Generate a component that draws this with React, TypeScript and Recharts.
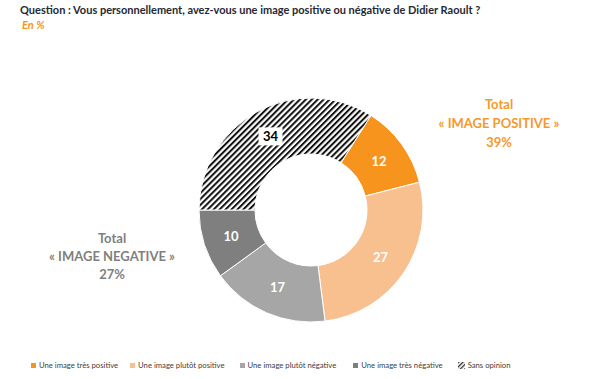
import React from "react";
import { PieChart, Pie, Cell } from "recharts";

const categories = [
  "Une image très positive",
  "Une image plutôt positive",
  "Une image plutôt négative",
  "Une image très négative",
  "Sans opinion",
];
const values = [12, 27, 17, 10, 34];
const colors = ["#F7941D", "#F9C08F", "#A6A6A6", "#7F7F7F", "url(#hatch)"];
const labelColors = ["#FFFFFF", "#FFFFFF", "#FFFFFF", "#FFFFFF", "#000000"];
const positiveTotal = ["Total", "« IMAGE POSITIVE »", "39%"];
const negativeTotal = ["Total", "« IMAGE NEGATIVE »", "27%"];
const title = "Question : Vous personnellement, avez-vous une image positive ou négative de Didier Raoult ?";
const subtitle = "En %";

const data = categories.map((name, i) => ({ name, value: values[i] }));

const FONT = "Lato, 'Open Sans', sans-serif";
const RADIAN = Math.PI / 180;

const renderLabel = (props: any) => {
  const { cx, cy, midAngle, innerRadius, outerRadius, value, index } = props;
  const r = (innerRadius + outerRadius) / 2;
  const x = cx + r * Math.cos(-midAngle * RADIAN);
  const y = cy + r * Math.sin(-midAngle * RADIAN);
  const isHatch = index === 4;
  return (
    <g>
      {isHatch && <rect x={x - 12} y={y - 9} width={24} height={18} fill="#FFFFFF" />}
      <text
        x={x}
        y={y}
        fill={labelColors[index]}
        textAnchor="middle"
        dominantBaseline="central"
        fontFamily={FONT}
        fontWeight={700}
        fontSize={13}
      >
        {value}
      </text>
    </g>
  );
};

const LegendIcon = ({ i }: { i: number }) =>
  i === 4 ? (
    <svg width={7} height={7} style={{ marginRight: 3 }}>
      <rect x={0} y={0} width={7} height={7} fill="url(#hatchSmall)" />
    </svg>
  ) : (
    <span style={{ display: "inline-block", width: 5, height: 5, background: colors[i], marginRight: 3 }} />
  );

const legendGaps = [12, 15, 17, 15, 0];

export default function App() {
  return (
    <div style={{ position: "absolute", left: 0, top: 0, width: 600, height: 379, background: "#fff", fontFamily: FONT }}>
      <svg width={0} height={0} style={{ position: "absolute" }}>
        <defs>
          <pattern id="hatchSmall" patternUnits="userSpaceOnUse" width={3} height={3} patternTransform="rotate(45)">
            <rect x={0} y={0} width={3} height={3} fill="#fff" />
            <rect x={0} y={0} width={1.3} height={3} fill="#333" />
          </pattern>
        </defs>
      </svg>
      <div style={{ position: "absolute", left: 20, top: 3, fontSize: 11, fontWeight: 700, color: "#262833", whiteSpace: "nowrap" }}>
        {title}
      </div>
      <div style={{ position: "absolute", left: 22, top: 18, fontSize: 11, fontWeight: 700, fontStyle: "italic", color: "#F7941D" }}>
        {subtitle}
      </div>
      <PieChart width={600} height={379} margin={{ top: 0, right: 0, bottom: 0, left: 0 }} style={{ position: "absolute", left: 0, top: 0 }}>
        <defs>
          <pattern id="hatch" patternUnits="userSpaceOnUse" width={4.2} height={4.2} patternTransform="rotate(45)">
            <rect x={0} y={0} width={4.2} height={4.2} fill="#fff" />
            <rect x={0} y={0} width={2} height={4.2} fill="#111" />
          </pattern>
        </defs>
        <Pie
          data={data}
          dataKey="value"
          nameKey="name"
          cx={311}
          cy={210}
          innerRadius={56}
          outerRadius={112}
          startAngle={57.6}
          endAngle={-302.4}
          stroke="#FFFFFF"
          strokeWidth={1}
          label={renderLabel}
          labelLine={false}
          isAnimationActive={false}
        >
          {data.map((d, i) => (
            <Cell key={d.name} fill={colors[i]} />
          ))}
        </Pie>
      </PieChart>
      <div style={{ position: "absolute", left: 434, top: 95, width: 130, textAlign: "center", color: "#F39A2E", fontWeight: 700, fontSize: 13, lineHeight: "19px" }}>
        {positiveTotal.map((t) => (
          <div key={t}>{t}</div>
        ))}
      </div>
      <div style={{ position: "absolute", left: 42, top: 229, width: 140, textAlign: "center", color: "#7F7F7F", fontWeight: 700, fontSize: 13, lineHeight: "18px" }}>
        {negativeTotal.map((t) => (
          <div key={t}>{t}</div>
        ))}
      </div>
      <div style={{ position: "absolute", left: 31, top: 360, display: "flex", alignItems: "center", fontSize: 7.7, color: "#404040", whiteSpace: "nowrap" }}>
        {categories.map((c, i) => (
          <div key={c} style={{ display: "flex", alignItems: "center", marginRight: legendGaps[i] }}>
            <LegendIcon i={i} />
            <span>{c}</span>
          </div>
        ))}
      </div>
    </div>
  );
}
